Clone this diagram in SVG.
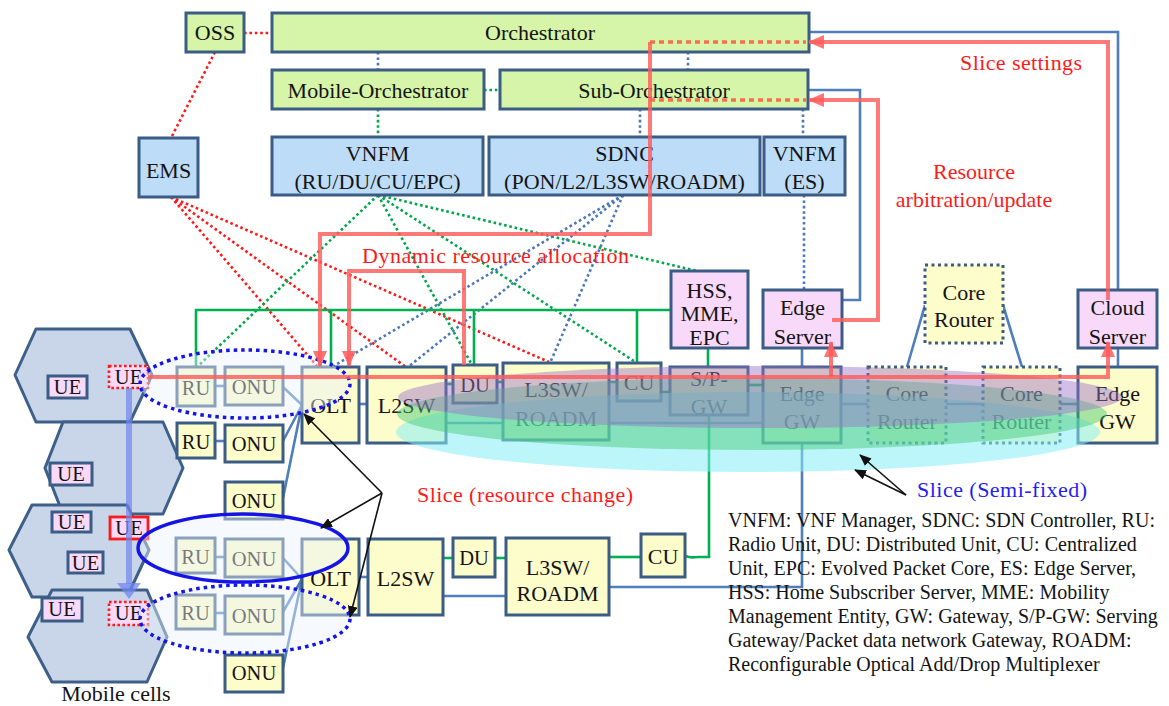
<svg xmlns="http://www.w3.org/2000/svg" width="1169" height="706" viewBox="0 0 1169 706">
  <defs>
    <style>
      .t { font-family: "Liberation Serif", "Times New Roman", serif; fill: #141414; text-anchor: middle; }
      .f22 { font-size: 22px; }
      .f20 { font-size: 20.5px; }
      .box { stroke: #3b5c85; stroke-width: 3; }
      .grn { fill: #d6f5a8; }
      .blu { fill: #bddcf8; }
      .yel { fill: #fdfccb; }
      .pnk { fill: #f9d9f9; }
      .dotbox { stroke-dasharray: 3 3.5; }
      .hex { fill: #c9d6ea; stroke: #3e6088; stroke-width: 3; stroke-linejoin: round; }
      .ln-b { stroke: #4f7fba; stroke-width: 2.6; fill: none; }
      .ln-g { stroke: #00b050; stroke-width: 2.6; fill: none; }
      .dt-r { stroke: #ff1a1a; stroke-width: 2.6; stroke-dasharray: 2.6 2.8; fill: none; }
      .dt-g { stroke: #00a84a; stroke-width: 2.6; stroke-dasharray: 2.6 2.8; fill: none; }
      .dt-b { stroke: #4a78b8; stroke-width: 2.6; stroke-dasharray: 2.6 2.8; fill: none; }
      .red { stroke: #ff5c5c; stroke-opacity: 0.82; stroke-width: 4; fill: none; }
      .reddot { stroke: #f2704e; stroke-width: 3.5; stroke-dasharray: 5 4; fill: none; }
      .blk { stroke: #111; stroke-width: 1.6; fill: none; }
      .lbl-r { font-family: "Liberation Serif", "Times New Roman", serif; font-size: 22px; fill: #ff1a1a; }
      .lbl-b { font-family: "Liberation Serif", "Times New Roman", serif; font-size: 22px; fill: #1f1ff0; }
      .legend { font-family: "Liberation Serif", "Times New Roman", serif; font-size: 20px; fill: #141414; }
    </style>
    <marker id="arR" viewBox="0 0 16 14" refX="15" refY="7" markerWidth="16" markerHeight="14" markerUnits="userSpaceOnUse" orient="auto">
      <path d="M0,0 L16,7 L0,14 z" fill="#ff5c5c" fill-opacity="0.85"/>
    </marker>
    <marker id="arK" viewBox="0 0 12 10" refX="11" refY="5" markerWidth="12" markerHeight="10" markerUnits="userSpaceOnUse" orient="auto">
      <path d="M0,0 L12,5 L0,10 z" fill="#111"/>
    </marker>
  </defs>

  <rect width="1169" height="706" fill="#ffffff"/>

  <!-- mobile cells -->
  <g id="cells">
    <polygon class="hex" points="15,375 36,329 130,329 152,375 130,422 36,422"/>
    <polygon class="hex" points="45,468 63,422 163,422 183,468 163,514 63,514"/>
    <polygon class="hex" points="9,550 32,505 127,505 149,550 127,597 32,597"/>
    <polygon class="hex" points="28,637 52,590 147,590 167,637 147,682 52,682"/>
    <g id="ue1"><rect x="48" y="376" width="39" height="22" class="box pnk" stroke-width="2.6"/><text x="67.5" y="394" class="t f20">UE</text></g>
    <g id="ue2"><rect x="109" y="366" width="39" height="22" fill="#f9d9f9" stroke="#ff1a1a" stroke-width="2.6" stroke-dasharray="2.6 2.4"/><text x="128.5" y="384" class="t f20">UE</text></g>
    <g id="ue3"><rect x="50" y="463" width="42" height="22" class="box pnk" stroke-width="2.6"/><text x="71" y="481" class="t f20">UE</text></g>
    <g id="ue4"><rect x="52" y="512" width="39" height="20" class="box pnk" stroke-width="2.6"/><text x="71.5" y="529" class="t f20">UE</text></g>
    <g id="ue5"><rect x="110" y="517" width="38" height="22" fill="#f9d9f9" stroke="#ff1a1a" stroke-width="2.8"/><text x="129" y="535" class="t f20">UE</text></g>
    <g id="ue6"><rect x="68" y="552" width="35" height="21" class="box pnk" stroke-width="2.6"/><text x="85.5" y="570" class="t f20">UE</text></g>
    <g id="ue7"><rect x="42" y="598" width="40" height="23" class="box pnk" stroke-width="2.6"/><text x="62" y="616" class="t f20">UE</text></g>
    <g id="ue8"><rect x="109" y="602" width="39" height="23" fill="#f9d9f9" stroke="#ff1a1a" stroke-width="2.6" stroke-dasharray="2.6 2.4"/><text x="128.5" y="620" class="t f20">UE</text></g>
    <text x="116" y="701" class="t f22">Mobile cells</text>
  </g>

  <!-- connectors -->
  <g id="connectors">
    <!-- management plane (dotted) -->
    <line class="dt-r" x1="244" y1="33" x2="272" y2="33"/>
    <line class="dt-r" x1="215" y1="52" x2="171" y2="138"/>
    <line class="dt-b" x1="378" y1="52" x2="378" y2="70"/>
    <line class="dt-g" x1="484" y1="90" x2="500" y2="90"/>
    <line class="dt-g" x1="378" y1="109" x2="378" y2="137"/>
    <line class="dt-b" x1="688" y1="52" x2="688" y2="70"/>
    <line class="dt-b" x1="640" y1="109" x2="640" y2="137"/>
    <line class="dt-b" x1="803" y1="109" x2="803" y2="137"/>
    <line class="dt-b" x1="804" y1="195" x2="804" y2="290"/>
    <line class="dt-r" x1="171" y1="197" x2="317" y2="366"/>
    <line class="dt-r" x1="171" y1="197" x2="406" y2="367"/>
    <line class="dt-r" x1="171" y1="197" x2="549" y2="362"/>
    <line class="dt-g" x1="378" y1="195" x2="197" y2="367"/>
    <line class="dt-g" x1="378" y1="195" x2="472" y2="365"/>
    <line class="dt-g" x1="378" y1="195" x2="637" y2="363"/>
    <line class="dt-g" x1="378" y1="195" x2="697" y2="271"/>
    <line class="dt-b" x1="623" y1="195" x2="332" y2="367"/>
    <line class="dt-b" x1="623" y1="195" x2="408" y2="367"/>
    <line class="dt-b" x1="623" y1="195" x2="550" y2="363"/>

    <!-- orchestration links to servers -->
    <path class="ln-b" d="M809,32 H1118 V290"/>
    <path class="ln-b" d="M808,90 H860 V300 H842"/>

    <!-- control bus -->
    <path class="ln-g" d="M196,367 V310 H671"/>
    <line class="ln-g" x1="331" y1="310" x2="331" y2="367"/>
    <line class="ln-g" x1="474" y1="310" x2="474" y2="365"/>
    <line class="ln-g" x1="637" y1="310" x2="637" y2="363"/>
    <line class="ln-g" x1="708" y1="348" x2="708" y2="367"/>

    <!-- upper data path -->
    <line class="ln-b" x1="215" y1="386" x2="225" y2="386"/>
    <line class="ln-b" x1="215" y1="441" x2="225" y2="441"/>
    <line class="ln-b" x1="283" y1="387" x2="302" y2="405"/>
    <line class="ln-b" x1="283" y1="441" x2="302" y2="405"/>
    <line class="ln-b" x1="283" y1="498" x2="302" y2="405"/>
    <line class="ln-b" x1="359" y1="404" x2="367" y2="404"/>
    <line class="ln-g" x1="446" y1="384" x2="453" y2="384"/>
    <line class="ln-g" x1="497" y1="382" x2="503" y2="382"/>
    <line class="ln-g" x1="609" y1="382" x2="617" y2="382"/>
    <line class="ln-g" x1="661" y1="392" x2="670" y2="392"/>
    <line class="ln-g" x1="748" y1="385" x2="763" y2="385"/>
    <line class="ln-b" x1="446" y1="423" x2="503" y2="423"/>
    <line class="ln-b" x1="609" y1="423" x2="763" y2="423"/>
    <line class="ln-b" x1="841" y1="404" x2="868" y2="404"/>
    <line class="ln-b" x1="946" y1="404" x2="983" y2="404"/>
    <line class="ln-b" x1="1060" y1="404" x2="1078" y2="404"/>
    <line class="ln-b" x1="925" y1="305" x2="907" y2="367"/>
    <line class="ln-b" x1="1003" y1="305" x2="1022" y2="367"/>
    <line class="ln-b" x1="802" y1="348" x2="802" y2="367"/>
    <line class="ln-b" x1="1118" y1="348" x2="1118" y2="367"/>

    <!-- lower data path -->
    <line class="ln-b" x1="215" y1="557" x2="225" y2="557"/>
    <line class="ln-b" x1="215" y1="613" x2="225" y2="613"/>
    <line class="ln-b" x1="283" y1="558" x2="302" y2="579"/>
    <line class="ln-b" x1="283" y1="612" x2="302" y2="579"/>
    <line class="ln-b" x1="283" y1="668" x2="302" y2="579"/>
    <line class="ln-b" x1="359" y1="577" x2="368" y2="577"/>
    <line class="ln-g" x1="443" y1="558" x2="453" y2="558"/>
    <line class="ln-g" x1="495" y1="558" x2="506" y2="558"/>
    <path class="ln-g" d="M609,557 H641"/>
    <path class="ln-g" d="M685,556 Q690,558 698,557 H709 V415"/>
    <line class="ln-b" x1="443" y1="596" x2="506" y2="596"/>
    <path class="ln-b" d="M609,587 H802 V443"/>
  </g>

  <!-- nodes -->
  <g id="n-oss"><rect x="186" y="13" width="58" height="39" class="box grn"/><text x="215" y="40" class="t f22">OSS</text></g>
  <g id="n-orch"><rect x="272" y="13" width="537" height="39" class="box grn"/><text x="540" y="40" class="t f22">Orchestrator</text></g>
  <g id="n-morch"><rect x="272" y="70" width="212" height="39" class="box grn"/><text x="378" y="98" class="t f22">Mobile-Orchestrator</text></g>
  <g id="n-sorch"><rect x="500" y="70" width="308" height="39" class="box grn"/><text x="654" y="98" class="t f22">Sub-Orchestrator</text></g>
  <g id="n-ems"><rect x="139" y="138" width="59" height="59" class="box blu"/><text x="168.5" y="178" class="t f22">EMS</text></g>
  <g id="n-vnfm"><rect x="272" y="137" width="211" height="58" class="box blu"/><text x="377.5" y="161" class="t f22">VNFM</text><text x="377.5" y="189" class="t f22">(RU/DU/CU/EPC)</text></g>
  <g id="n-sdnc"><rect x="489" y="137" width="271" height="58" class="box blu"/><text x="624.5" y="161" class="t f22">SDNC</text><text x="624.5" y="189" class="t f22">(PON/L2/L3SW/ROADM)</text></g>
  <g id="n-vnfm-es"><rect x="764" y="137" width="81" height="58" class="box blu"/><text x="804.5" y="161" class="t f22">VNFM</text><text x="804.5" y="189" class="t f22">(ES)</text></g>
  <g id="n-hss"><rect x="671" y="271" width="77" height="77" class="box pnk"/><text x="709.5" y="298" class="t f22">HSS,</text><text x="709.5" y="321" class="t f22">MME,</text><text x="709.5" y="345" class="t f22">EPC</text></g>
  <g id="n-es"><rect x="763" y="290" width="79" height="58" class="box pnk"/><text x="802.5" y="315" class="t f22">Edge</text><text x="802.5" y="344" class="t f22">Server</text></g>
  <g id="n-cr-top"><rect x="925" y="265" width="78" height="78" class="box yel dotbox"/><text x="964" y="300" class="t f22">Core</text><text x="964" y="327" class="t f22">Router</text></g>
  <g id="n-cs"><rect x="1078" y="290" width="79" height="58" class="box pnk"/><text x="1117.5" y="315" class="t f22">Cloud</text><text x="1117.5" y="344" class="t f22">Server</text></g>

  <g id="n-ru1"><rect x="177" y="367" width="38" height="39" class="box yel"/><text x="196" y="395" class="t f20">RU</text></g>
  <g id="n-onu1"><rect x="225" y="367" width="58" height="38" class="box yel"/><text x="254" y="394" class="t f20">ONU</text></g>
  <g id="n-olt1"><rect x="302" y="367" width="57" height="76" class="box yel"/><text x="330.5" y="413" class="t f22">OLT</text></g>
  <g id="n-l2sw1"><rect x="367" y="367" width="79" height="76" class="box yel"/><text x="406.5" y="413" class="t f22">L2SW</text></g>
  <g id="n-du1"><rect x="453" y="365" width="44" height="38" class="box yel"/><text x="475" y="392" class="t f20">DU</text></g>
  <g id="n-l3sw1"><rect x="503" y="363" width="106" height="77" class="box yel"/><text x="556" y="397" class="t f22">L3SW/</text><text x="556" y="426" class="t f22">ROADM</text></g>
  <g id="n-cu1"><rect x="617" y="363" width="44" height="38" class="box yel"/><text x="639" y="390" class="t f22">CU</text></g>
  <g id="n-spgw"><rect x="670" y="367" width="78" height="48" class="box yel"/><text x="709" y="386" class="t f22">S/P-</text><text x="709" y="414" class="t f22">GW</text></g>
  <g id="n-egw1"><rect x="763" y="367" width="78" height="76" class="box yel"/><text x="802" y="401" class="t f22">Edge</text><text x="802" y="429" class="t f22">GW</text></g>
  <g id="n-cr1"><rect x="868" y="367" width="78" height="76" class="box yel dotbox"/><text x="907" y="401" class="t f22">Core</text><text x="907" y="429" class="t f22">Router</text></g>
  <g id="n-cr2"><rect x="983" y="367" width="77" height="76" class="box yel dotbox"/><text x="1021.5" y="401" class="t f22">Core</text><text x="1021.5" y="429" class="t f22">Router</text></g>
  <g id="n-egw2"><rect x="1078" y="367" width="79" height="76" class="box yel"/><text x="1117.5" y="401" class="t f22">Edge</text><text x="1117.5" y="429" class="t f22">GW</text></g>

  <g id="n-ru2"><rect x="177" y="423" width="38" height="35" class="box yel"/><text x="196" y="449" class="t f20">RU</text></g>
  <g id="n-onu2"><rect x="225" y="425" width="58" height="37" class="box yel"/><text x="254" y="451" class="t f20">ONU</text></g>
  <g id="n-onu3"><rect x="225" y="482" width="58" height="37" class="box yel"/><text x="254" y="508" class="t f20">ONU</text></g>
  <g id="n-ru4"><rect x="176" y="538" width="39" height="35" class="box yel"/><text x="195.5" y="564" class="t f20">RU</text></g>
  <g id="n-onu4"><rect x="225" y="539" width="58" height="38" class="box yel"/><text x="254" y="566" class="t f20">ONU</text></g>
  <g id="n-olt2"><rect x="302" y="539" width="57" height="76" class="box yel"/><text x="330.5" y="586" class="t f22">OLT</text></g>
  <g id="n-l2sw2"><rect x="368" y="539" width="75" height="76" class="box yel"/><text x="405.5" y="586" class="t f22">L2SW</text></g>
  <g id="n-du2"><rect x="453" y="538" width="42" height="39" class="box yel"/><text x="474" y="565" class="t f20">DU</text></g>
  <g id="n-l3sw2"><rect x="506" y="538" width="103" height="77" class="box yel"/><text x="557.5" y="575" class="t f22">L3SW/</text><text x="557.5" y="601" class="t f22">ROADM</text></g>
  <g id="n-cu2"><rect x="641" y="534" width="44" height="43" class="box yel"/><text x="663" y="564" class="t f22">CU</text></g>
  <g id="n-ru5"><rect x="176" y="595" width="39" height="34" class="box yel"/><text x="195.5" y="620" class="t f20">RU</text></g>
  <g id="n-onu5"><rect x="225" y="596" width="58" height="38" class="box yel"/><text x="254" y="623" class="t f20">ONU</text></g>
  <g id="n-onu6"><rect x="225" y="655" width="58" height="37" class="box yel"/><text x="254" y="680" class="t f20">ONU</text></g>

  <!-- radio-side slices -->
  <g id="ran-slices">
    <ellipse cx="245" cy="384" rx="105" ry="34" fill="#eaf3fc" fill-opacity="0.45" stroke="#1414e6" stroke-width="3.5" stroke-dasharray="3.5 4"/>
    <ellipse cx="243" cy="548" rx="105" ry="34" fill="#eaf3fc" fill-opacity="0.45" stroke="#1414e6" stroke-width="3.5"/>
    <ellipse cx="245" cy="619" rx="105" ry="34" fill="#eaf3fc" fill-opacity="0.45" stroke="#1414e6" stroke-width="3.5" stroke-dasharray="3.5 4"/>
  </g>

  <!-- semi-fixed slices -->
  <g id="core-slices">
    <ellipse cx="748" cy="432" rx="352" ry="40" fill="#86eef6" fill-opacity="0.55"/>
    <ellipse cx="752" cy="414" rx="355" ry="36" fill="#3fc870" fill-opacity="0.45"/>
    <ellipse cx="760" cy="397" rx="362" ry="31" fill="#9a72c8" fill-opacity="0.45"/>
  </g>

  <!-- slice control flows -->
  <g id="flows">
    <line class="reddot" x1="650" y1="42" x2="806" y2="42"/>
    <line class="reddot" x1="650" y1="100" x2="806" y2="100"/>
    <path class="red" d="M1108,300 V42 H809" marker-end="url(#arR)"/>
    <path class="red" d="M832,320 H878 V100 H809" marker-end="url(#arR)"/>
    <path class="red" d="M650,42 V234 H320 V366" marker-end="url(#arR)"/>
    <path class="red" d="M464,365 V271 H349 V366" marker-end="url(#arR)"/>
    <path class="red" d="M148,377 H1108 V342" marker-end="url(#arR)"/>
    <path class="red" d="M831,377 V342" marker-end="url(#arR)"/>
    <line x1="129" y1="388" x2="129" y2="584" stroke="#7086f0" stroke-opacity="0.7" stroke-width="6"/>
    <polygon points="117,583 141,583 129,599" fill="#7086f0" fill-opacity="0.75"/>
  </g>

  <!-- slice pointers -->
  <g id="pointers">
    <line class="blk" x1="382" y1="493" x2="304" y2="414" marker-end="url(#arK)"/>
    <line class="blk" x1="382" y1="493" x2="321" y2="528" marker-end="url(#arK)"/>
    <line class="blk" x1="382" y1="493" x2="350" y2="617" marker-end="url(#arK)"/>
    <line class="blk" x1="906" y1="495" x2="860" y2="455" marker-end="url(#arK)"/>
    <line class="blk" x1="906" y1="495" x2="855" y2="470" marker-end="url(#arK)"/>
  </g>

  <!-- labels -->
  <g id="labels">
    <text x="960" y="70" class="lbl-r" textLength="122">Slice settings</text>
    <text x="974" y="179" class="lbl-r" text-anchor="middle">Resource</text>
    <text x="974" y="207" class="lbl-r" text-anchor="middle">arbitration/update</text>
    <text x="362" y="263" class="lbl-r" textLength="267">Dynamic resource allocation</text>
    <text x="417" y="502" class="lbl-r" textLength="216">Slice (resource change)</text>
    <text x="917" y="497" class="lbl-b" textLength="170">Slice (Semi-fixed)</text>
  </g>

  <g id="legend">
    <text x="728" y="527" class="legend">VNFM: VNF Manager, SDNC: SDN Controller, RU:</text>
    <text x="728" y="551" class="legend">Radio Unit, DU: Distributed Unit, CU: Centralized</text>
    <text x="728" y="575" class="legend">Unit, EPC: Evolved Packet Core, ES: Edge Server,</text>
    <text x="728" y="599" class="legend">HSS: Home Subscriber Server, MME: Mobility</text>
    <text x="728" y="623" class="legend">Management Entity, GW: Gateway, S/P-GW: Serving</text>
    <text x="728" y="647" class="legend">Gateway/Packet data network Gateway, ROADM:</text>
    <text x="728" y="671" class="legend">Reconfigurable Optical Add/Drop Multiplexer</text>
  </g>
</svg>
